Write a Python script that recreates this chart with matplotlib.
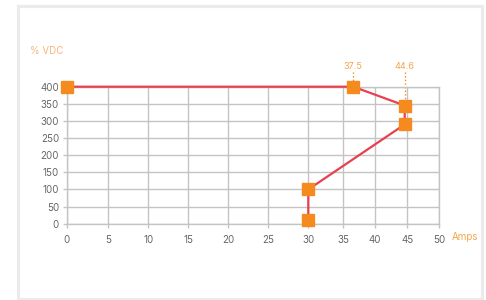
import matplotlib
matplotlib.use("Agg")
import matplotlib.pyplot as plt
from matplotlib.patches import Rectangle
import numpy as np

# ---- data ----
amps = [0, 37.5, 44.6, 44.6, 30, 30]
vdc = [400, 400, 345, 290, 100, 10]
x_ticks = [0, 5, 10, 15, 20, 25, 30, 35, 40, 45, 50]
y_ticks = [0, 50, 100, 150, 200, 250, 300, 350, 400]
labelled = [37.5, 44.6]
labelled_y = [400, 345]
label_text = ["37.5", "44.6"]

# ---- non-uniform x scale (as drawn in the reference) ----
knot_vals = np.array([0, 5, 10, 15, 20, 25, 30, 35, 37.5, 40, 45, 50])
knot_pos = np.array([0, 41.6, 81.6, 121.6, 161.6, 201.6, 241.6, 276.6, 286.6, 308.3, 340.6, 372.3]) / 372.3

def fwd(x):
    return np.interp(x, knot_vals, knot_pos)

def inv(p):
    return np.interp(p, knot_pos, knot_vals)

plt.rcParams['font.family'] = ['Inter', 'DejaVu Sans']

W, H = 486, 300
fig = plt.figure(figsize=(W / 100, H / 100), dpi=100)
fig.patch.set_facecolor('white')

# outer border
fig.patches.append(Rectangle((18.3 / W, 1.2 / H), (482.3 - 18.3) / W, (294.2 - 1.2) / H,
                             transform=fig.transFigure, fill=False,
                             edgecolor='#ebebeb', linewidth=2.3))

left, right = 66.7, 439.0
top, bottom = 86.7, 223.7
ax = fig.add_axes([left / W, (H - bottom) / H, (right - left) / W, (bottom - top) / H])
ax.set_xscale('function', functions=(fwd, inv))
ax.set_xlim(0, 50)
ax.set_ylim(0, 400)
ax.set_xticks(x_ticks)
ax.set_xticklabels([str(t) for t in x_ticks])
ax.set_yticks(y_ticks)
ax.set_yticklabels([str(t) for t in y_ticks])
ax.minorticks_off()

grid_c = '#c4c4c4'
ax.grid(True, color=grid_c, linewidth=1.0)
ax.set_axisbelow(True)
for s in ax.spines.values():
    s.set_color(grid_c)
    s.set_linewidth(1.0)
ax.tick_params(axis='both', length=3, width=1.0, color=grid_c,
               labelcolor='#666666', labelsize=7)
ax.tick_params(axis='x', pad=5)
ax.tick_params(axis='y', pad=2.5)

line_c = '#e8404f'
mark_c = '#f58a1f'
ax.plot(amps, vdc, color=line_c, linewidth=1.6, zorder=3, clip_on=False)
ax.plot(amps, vdc, linestyle='none', marker='s', markersize=9.2,
        markerfacecolor=mark_c, markeredgecolor=mark_c, zorder=4, clip_on=False)

for xv, yv, t in zip(labelled, labelled_y, label_text):
    ax.plot([xv, xv], [443, yv], color=mark_c, linewidth=1.0,
            linestyle=(0, (1, 1.6)), zorder=2, clip_on=False)
    ax.text(xv, 460, t, ha='center', va='center', color='#f5a54a', fontsize=6.5)

fig.text(30 / W, (H - 50.7) / H, '% VDC', ha='left', va='center',
         color='#f6b878', fontsize=7)
fig.text(451.7 / W, (H - 237) / H, 'Amps', ha='left', va='center',
         color='#f5a54a', fontsize=7)

fig.savefig('out.png', dpi=100, facecolor='white')
